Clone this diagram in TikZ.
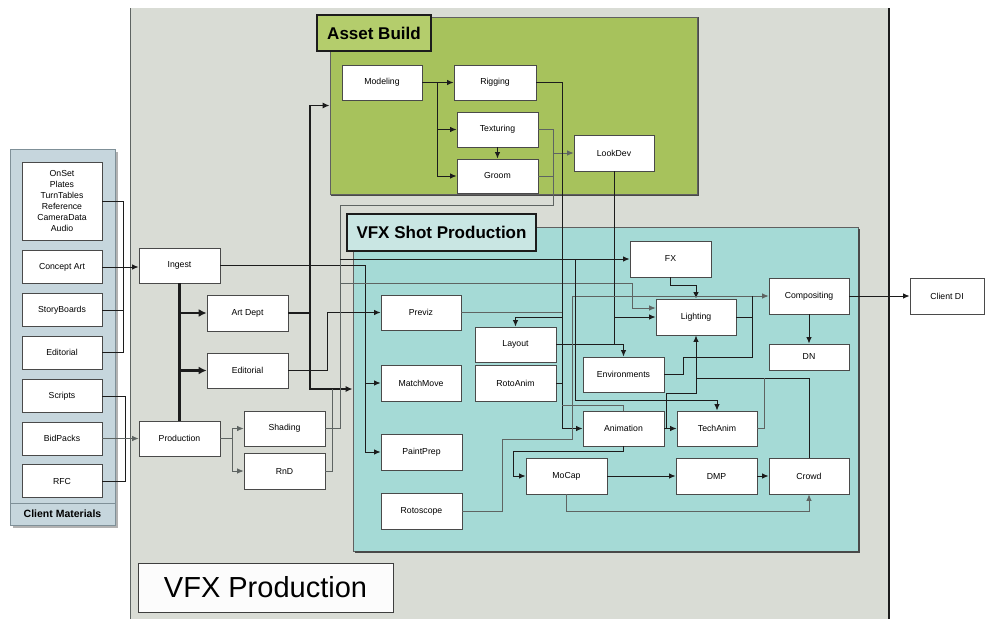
\documentclass[tikz,border=0pt]{standalone}
\usepackage{fontspec}
\setmainfont{Liberation Sans}
\usetikzlibrary{arrows.meta,calc}
\definecolor{stage}{HTML}{D9DCD5}
\definecolor{panel}{HTML}{C6D6DD}
\definecolor{panelline}{HTML}{7F9098}
\definecolor{assetgreen}{HTML}{A7C25C}
\definecolor{assettab}{HTML}{B4CD6C}
\definecolor{shotteal}{HTML}{A5DAD6}
\definecolor{shottab}{HTML}{C9E6E3}
\definecolor{ink}{HTML}{1C1C1C}
\definecolor{inkgray}{HTML}{5E6462}
\definecolor{boxline}{HTML}{4A4A4A}
\begin{document}
\begin{tikzpicture}[x=1pt,y=-1pt,
  box/.style={draw=boxline, fill=white, line width=0.8pt, minimum width=81pt,
    minimum height=35pt, inner sep=0pt, align=center,
    font=\fontsize{8.7}{10}\selectfont},
  area/.style={draw=ink!70, line width=0.8pt, inner sep=0pt},
  tab/.style={draw=ink, line width=1.3pt, inner sep=0pt,
    font=\fontsize{17}{20}\selectfont\bfseries},
  conn/.style={draw=ink, line width=1pt},
  arr/.style={conn, -{Latex[length=6.5pt,width=5.5pt]}},
  faint/.style={draw=inkgray, line width=0.75pt},
  faintarr/.style={faint, -{Latex[length=6.5pt,width=5.5pt]}},
  heavy/.style={draw=ink, line width=2.8pt},
  heavyarr/.style={heavy, -{Latex[length=8pt,width=8pt]}},
  midline/.style={draw=ink, line width=1.3pt},
  bothtips/.style={midline, {Latex[length=7pt,width=6pt]}-{Latex[length=7pt,width=6pt]}}
]
\useasboundingbox (0,0) rectangle (985,619);

% production floor
\fill[stage] (130,8) rectangle (889,619);
\draw[inkgray, line width=0.8pt] (130,8) -- (130,619);
\draw[ink, line width=1.2pt] (889,8) -- (889,619);

% client materials panel
\fill[black!30] (13,152) rectangle (118,528);
\draw[fill=panel, draw=panelline, line width=0.8pt] (10,149) rectangle (115,525);
\draw[panelline, line width=0.8pt] (10,503) -- (115,503);
\node[font=\fontsize{10.5}{12}\selectfont\bfseries] (cmtitle) at (62.5,514) {Client Materials};

% asset build area
\node[area, fill=assetgreen, minimum width=367pt, minimum height=177pt] (assetarea) at (513.5,105.5) {};
\draw[ink!80, line width=1.4pt] ([shift={(1pt,-1pt)}]assetarea.south west) -- ([shift={(1pt,-1pt)}]assetarea.south east) -- ([shift={(1pt,0pt)}]assetarea.north east);
\node[tab, fill=assettab, minimum width=114pt, minimum height=36pt] (assettitle) at (374,33) {Asset Build};

% shot production area
\node[area, fill=shotteal, minimum width=505pt, minimum height=324pt] (shotarea) at (605.5,389) {};
\draw[ink!80, line width=2pt] ([shift={(2pt,-1pt)}]shotarea.south west) -- ([shift={(1pt,-1pt)}]shotarea.south east) -- ([shift={(1pt,-2pt)}]shotarea.north east);

% overall label
\node[draw=ink!85, line width=1pt, fill=white!92!stage, minimum width=255pt, minimum height=49pt,
  inner sep=0pt, font=\fontsize{29}{32}\selectfont] (vfxlabel) at (265.5,587.5) {VFX Production};

% ---------- boxes ----------
\node[box, minimum width=80pt, minimum height=78pt, font=\fontsize{8.7}{11}\selectfont] (onset) at (62,201)
  {OnSet\\Plates\\TurnTables\\Reference\\CameraData\\Audio};
\node[box, minimum width=80pt, minimum height=33pt] (concept) at (62,267) {Concept Art};
\node[box, minimum width=80pt, minimum height=33pt] (story) at (62,310) {StoryBoards};
\node[box, minimum width=80pt, minimum height=33pt] (cedit) at (62,352.5) {Editorial};
\node[box, minimum width=80pt, minimum height=33pt] (scripts) at (62,396) {Scripts};
\node[box, minimum width=80pt, minimum height=33pt] (bid) at (62,438.5) {BidPacks};
\node[box, minimum width=80pt, minimum height=33pt] (rfc) at (62,481) {RFC};

\node[box] (ingest) at (179.5,265.5) {Ingest};
\node[box] (production) at (179.5,438.5) {Production};
\node[box, minimum height=36pt] (artdept) at (247.5,313) {Art Dept};
\node[box] (editorial) at (247.5,370.5) {Editorial};
\node[box] (shading) at (284.5,428.5) {Shading};
\node[box, minimum height=36pt] (rnd) at (284.5,471) {RnD};

\node[box, minimum width=80pt] (modeling) at (382,82.5) {Modeling};
\node[box, minimum width=82pt] (rigging) at (495,82.5) {Rigging};
\node[box] (texturing) at (497.5,129.5) {Texturing};
\node[box, minimum height=34pt] (groom) at (497.5,176) {Groom};
\node[box, minimum width=80pt, minimum height=36pt] (lookdev) at (614,153) {LookDev};

\node[tab, fill=shottab, minimum width=189pt, minimum height=37pt] (shottitle) at (441.5,232.5) {VFX Shot Production};

\node[box, minimum width=80pt] (previz) at (421,312.5) {Previz};
\node[box] (layout) at (515.5,344.5) {Layout};
\node[box, minimum width=80pt, minimum height=36pt] (matchmove) at (421,383) {MatchMove};
\node[box, minimum height=36pt] (rotoanim) at (515.5,383) {RotoAnim};
\node[box, minimum height=36pt] (paintprep) at (421.5,452) {PaintPrep};
\node[box, minimum height=36pt] (rotoscope) at (421.5,511) {Rotoscope};
\node[box, minimum height=36pt] (fx) at (670.5,259) {FX};
\node[box, minimum width=80pt, minimum height=36pt] (lighting) at (696,317) {Lighting};
\node[box, minimum width=80pt, minimum height=36pt] (compositing) at (809,296) {Compositing};
\node[box, minimum width=80pt, minimum height=26pt] (dn) at (809,357) {DN};
\node[box] (environments) at (623.5,374.5) {Environments};
\node[box] (animation) at (623.5,428.5) {Animation};
\node[box, minimum width=80pt] (techanim) at (717,428.5) {TechAnim};
\node[box, minimum height=36pt] (mocap) at (566.5,476) {MoCap};
\node[box, minimum height=36pt] (dmp) at (716.5,476) {DMP};
\node[box, minimum width=80pt, minimum height=36pt] (crowd) at (809,476) {Crowd};
\node[box, minimum width=74pt, minimum height=36pt] (clientdi) at (947,296) {Client DI};

% ---------- connectors ----------
% client materials
\draw[conn] (onset.east) -- ++(21,0) |- (cedit.east);
\draw[conn] (story.east) -- ++(21,0);
\draw[arr] (concept.east) -- (concept.east -| ingest.west);
\draw[conn] (scripts.east) -- ++(23,0) |- (rfc.east);
\draw[faintarr] (bid.east) -- (production.west);

% ingest / production spine
\draw[heavy] (ingest.south) -- (production.north);
\draw[heavyarr] (ingest.south |- artdept.west) -- (artdept.west);
\draw[heavyarr] (ingest.south |- editorial.west) -- (editorial.west);
\draw[faint] (production.east) -- ++(12,0) coordinate (pj);
\draw[faint] (pj |- shading.west) -- (pj |- rnd.west);
\draw[faintarr] (pj |- shading.west) -- (shading.west);
\draw[faintarr] (pj |- rnd.west) -- (rnd.west);

% ingest into shot production
\coordinate (ingx) at (365,0);
\draw[conn] (ingest.east) -- (ingest.east -| ingx) -- (ingx |- paintprep.west);
\draw[arr] (ingx |- matchmove.west) -- (matchmove.west);
\draw[arr] (ingx |- paintprep.west) -- (paintprep.west);

% departments to asset build and shot production
\coordinate (deptx) at (310,0);
\draw[bothtips] (shotarea.west) -- (shotarea.west -| deptx) -- (deptx |- assetarea.west) -- (assetarea.west);
\draw[midline] (artdept.east) -- (artdept.east -| deptx);
\coordinate (rndx) at (332,0);
\draw[faint] (rnd.east) -| (rndx |- shotarea.west);
\coordinate (edx) at (327,0);
\draw[arr] (editorial.east) -| (edx |- previz.west) -- (previz.west);

% shading feed
\coordinate (shx) at (340,205);
\coordinate (tgx) at (553,205);
\draw[faint] (shading.east) -| (shx) -- (tgx) |- (texturing.east);
\draw[faint] (groom.east) -- (groom.east -| tgx);
\draw[faintarr] (tgx |- lookdev.west) -- (lookdev.west);
\draw[arr] (shx |- fx.west) -- (fx.west);
\coordinate (lgx) at (632,283.5);
\draw[faintarr] (shx |- lgx) -- (lgx) |- ($(lighting.west)+(0,-9)$);

% asset build
\coordinate (modx) at (437,0);
\draw[conn] (modeling.east) -- (modeling.east -| modx) -- (modx |- groom.west);
\draw[arr] (modeling.east -| modx) -- (rigging.west);
\draw[arr] (modx |- texturing.west) -- (texturing.west);
\draw[arr] (modx |- groom.west) -- (groom.west);
\draw[arr] (texturing.south) -- (groom.north);

% rigging feed
\coordinate (rgx) at (562,0);
\coordinate (layin) at (562,317);
\draw[arr] (rigging.east) -| (rgx |- animation.west) -- (animation.west);
\draw[faint] (previz.east) -- (previz.east -| rgx);
\draw[arr] (layin) -| (layout.north);
\draw[conn] (rotoanim.east) -- (rotoanim.east -| rgx);

% lookdev feed
\draw[conn] (lookdev.south) -- (lookdev.south |- layout.east);
\draw[arr] (layout.east) -| (environments.north);
\draw[arr] (lookdev.south |- lighting.west) -- (lighting.west);

% fx
\draw[arr] (fx.south) -- ++(0,8) -| (lighting.north);

% rotoscope to compositing
\coordinate (rox) at (502,439);
\coordinate (cpx) at (572,439);
\draw[faintarr] (rotoscope.east) -| (rox) -- (cpx) |- (compositing.west);

% techanim / animation tops
\coordinate (tax) at (575,400);
\draw[arr] (tax |- fx.west) -- (tax) -| (techanim.north);
\coordinate (anx) at (562,405);
\draw[faint] (anx) -| (animation.north);

% animation and crowd back to lighting
\draw[arr] (animation.east) -- (techanim.west);
\coordinate (alx) at (666,393);
\draw[arr] (alx |- animation.east) -- (alx) -| (lighting.south);
\coordinate (crx) at (696,378);
\draw[conn] (crowd.north) |- (crx);
\coordinate (tcx) at (764,378);
\draw[faint] (techanim.east) -| (tcx);

% environments and lighting to compositing
\coordinate (en1) at (683,357);
\coordinate (en2) at (752,357);
\draw[conn] (environments.east) -| (en1) -- (en2) -- (en2 |- compositing.west);
\draw[conn] (lighting.east) -- (lighting.east -| en2);

% compositing outputs
\draw[arr] (compositing.south) -- (dn.north);
\draw[arr] (compositing.east) -- (clientdi.west);

% mocap chain
\coordinate (amx) at (513,451);
\draw[arr] (animation.south) |- (amx) |- (mocap.west);
\draw[arr] (mocap.east) -- (dmp.west);
\draw[arr] (dmp.east) -- (crowd.west);
\draw[faintarr] (mocap.south) -- ++(0,17) -| (crowd.south);
\end{tikzpicture}
\end{document}
